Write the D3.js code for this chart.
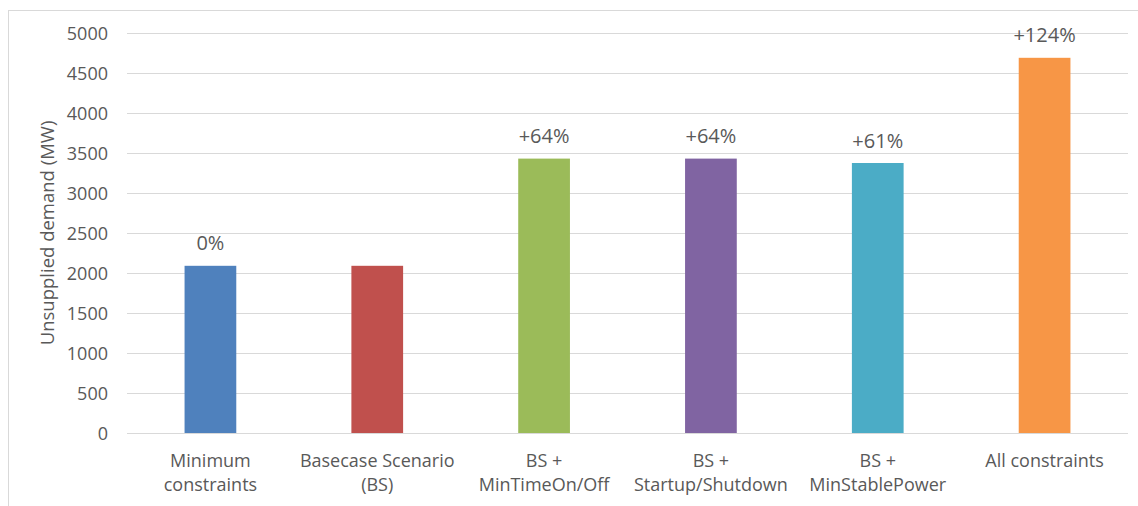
<!DOCTYPE html>
<html>
<head>
<meta charset="utf-8">
<script src="https://cdn.jsdelivr.net/npm/d3@7"></script>
<style>
  html, body { margin: 0; padding: 0; background: #fff; }
  svg { display: block; }
  text { font-family: "Open Sans", sans-serif; fill: #595959; }
</style>
</head>
<body>
<svg id="chart" width="1138" height="506"></svg>
<script>
const categories = [
  ["Minimum", "constraints"],
  ["Basecase Scenario", "(BS)"],
  ["BS +", "MinTimeOn/Off"],
  ["BS +", "Startup/Shutdown"],
  ["BS +", "MinStablePower"],
  ["All constraints"]
];
const values = [2090, 2090, 3430, 3430, 3375, 4690];
const dataLabels = ["0%", "", "+64%", "+64%", "+61%", "+124%"];
const colors = ["#4F81BD", "#C0504D", "#9BBB59", "#8064A2", "#4BACC6", "#F79646"];
const yTicks = [0, 500, 1000, 1500, 2000, 2500, 3000, 3500, 4000, 4500, 5000];
const yTitle = "Unsupplied demand (MW)";

const svg = d3.select("#chart");

// chart border (top and left visible)
svg.append("rect")
  .attr("x", 8.5).attr("y", 10.5)
  .attr("width", 1200).attr("height", 600)
  .attr("fill", "none").attr("stroke", "#d9d9d9").attr("stroke-width", 1);

const x = d3.scaleBand()
  .domain(d3.range(categories.length))
  .range([127, 1128])
  .paddingInner(0.69)
  .paddingOuter(0.345);

const y = d3.scaleLinear().domain([0, 5000]).range([433, 33]);

// gridlines
svg.append("g").selectAll("line")
  .data(yTicks)
  .join("line")
  .attr("x1", 127).attr("x2", 1128)
  .attr("y1", d => Math.round(y(d)) + 0.5)
  .attr("y2", d => Math.round(y(d)) + 0.5)
  .attr("stroke", "#d9d9d9").attr("stroke-width", 1);

// y axis labels
const yAxis = d3.axisLeft(y).tickValues(yTicks).tickFormat(d3.format("d")).tickSize(0).tickPadding(0);
const gy = svg.append("g").attr("transform", "translate(108,0)").call(yAxis);
gy.select(".domain").remove();
gy.selectAll("text")
  .attr("font-size", 18)
  .attr("font-family", "Open Sans, sans-serif")
  .attr("fill", "#595959")
  .attr("dy", "0.36em");

// bars
svg.append("g").selectAll("rect")
  .data(values)
  .join("rect")
  .attr("x", (d, i) => x(i))
  .attr("y", d => y(d))
  .attr("width", x.bandwidth())
  .attr("height", d => y(0) - y(d))
  .attr("fill", (d, i) => colors[i]);

// data labels
svg.append("g").selectAll("text")
  .data(values)
  .join("text")
  .attr("x", (d, i) => x(i) + x.bandwidth() / 2)
  .attr("y", d => y(d) - 15.5)
  .attr("text-anchor", "middle")
  .attr("font-size", 20)
  .attr("fill", "#404040")
  .text((d, i) => dataLabels[i]);

// category labels
const cat = svg.append("g").selectAll("text")
  .data(categories)
  .join("text")
  .attr("text-anchor", "middle")
  .attr("font-size", 18)
  .attr("x", (d, i) => x(i) + x.bandwidth() / 2)
  .attr("y", 467);
cat.selectAll("tspan")
  .data((d, i) => d.map(s => ({ s, i })))
  .join("tspan")
  .attr("x", d => x(d.i) + x.bandwidth() / 2)
  .attr("dy", (d, j) => j === 0 ? 0 : 23.5)
  .text(d => d.s);

// y title
svg.append("text")
  .attr("transform", "translate(54,233) rotate(-90)")
  .attr("text-anchor", "middle")
  .attr("font-size", 18.5)
  .text(yTitle);
</script>
</body>
</html>
